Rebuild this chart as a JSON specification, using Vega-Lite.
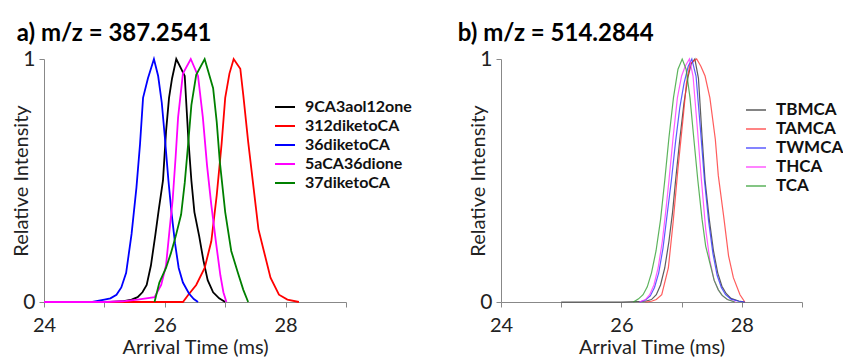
{
  "$schema": "https://vega.github.io/schema/vega-lite/v6.json",
  "padding": {"left": 11, "top": 22, "right": 0, "bottom": 0},
  "autosize": {"type": "pad"},
  "config": {
    "view": {"stroke": null},
    "font": "Lato",
    "axis": {"grid": false, "domainColor": "#888888", "tickColor": "#888888", "labelColor": "#222222", "titleColor": "#222222", "labelFontSize": 20, "titleFontSize": 20, "titleFontWeight": "normal", "tickSize": 5, "labelFont": "Lato", "titleFont": "Lato"},
    "legend": {"symbolType": "stroke", "symbolSize": 400, "symbolStrokeWidth": 2, "labelFontSize": 16, "labelFontWeight": "bold", "labelColor": "#111111", "rowPadding": 0, "labelOffset": 9, "labelLimit": 200, "labelFont": "Lato"}
  },
  "datasets": {
    "a": [
      {"s":"9CA3aol12one","t":25.1,"y":0},{"s":"9CA3aol12one","t":25.3,"y":0.003},{"s":"9CA3aol12one","t":25.45,"y":0.01},{"s":"9CA3aol12one","t":25.55,"y":0.02},{"s":"9CA3aol12one","t":25.63,"y":0.04},{"s":"9CA3aol12one","t":25.7,"y":0.07},{"s":"9CA3aol12one","t":25.77,"y":0.15},{"s":"9CA3aol12one","t":25.84,"y":0.27},{"s":"9CA3aol12one","t":25.9,"y":0.38},{"s":"9CA3aol12one","t":25.97,"y":0.5},{"s":"9CA3aol12one","t":26.02,"y":0.7},{"s":"9CA3aol12one","t":26.07,"y":0.84},{"s":"9CA3aol12one","t":26.12,"y":0.92},{"s":"9CA3aol12one","t":26.19,"y":1.0},{"s":"9CA3aol12one","t":26.27,"y":0.96},{"s":"9CA3aol12one","t":26.33,"y":0.93},{"s":"9CA3aol12one","t":26.39,"y":0.67},{"s":"9CA3aol12one","t":26.44,"y":0.5},{"s":"9CA3aol12one","t":26.49,"y":0.37},{"s":"9CA3aol12one","t":26.57,"y":0.27},{"s":"9CA3aol12one","t":26.64,"y":0.17},{"s":"9CA3aol12one","t":26.71,"y":0.09},{"s":"9CA3aol12one","t":26.8,"y":0.04},{"s":"9CA3aol12one","t":26.9,"y":0.015},{"s":"9CA3aol12one","t":27.0,"y":0},
      {"s":"312diketoCA","t":24.0,"y":0},{"s":"312diketoCA","t":25.0,"y":0},{"s":"312diketoCA","t":26.3,"y":0},{"s":"312diketoCA","t":26.39,"y":0.03},{"s":"312diketoCA","t":26.52,"y":0.07},{"s":"312diketoCA","t":26.66,"y":0.14},{"s":"312diketoCA","t":26.77,"y":0.25},{"s":"312diketoCA","t":26.86,"y":0.44},{"s":"312diketoCA","t":26.94,"y":0.65},{"s":"312diketoCA","t":27.0,"y":0.84},{"s":"312diketoCA","t":27.07,"y":0.94},{"s":"312diketoCA","t":27.14,"y":1.0},{"s":"312diketoCA","t":27.25,"y":0.96},{"s":"312diketoCA","t":27.3,"y":0.85},{"s":"312diketoCA","t":27.38,"y":0.66},{"s":"312diketoCA","t":27.47,"y":0.47},{"s":"312diketoCA","t":27.55,"y":0.3},{"s":"312diketoCA","t":27.64,"y":0.21},{"s":"312diketoCA","t":27.75,"y":0.1},{"s":"312diketoCA","t":27.89,"y":0.03},{"s":"312diketoCA","t":28.03,"y":0.01},{"s":"312diketoCA","t":28.22,"y":0},
      {"s":"36diketoCA","t":24.0,"y":0},{"s":"36diketoCA","t":24.8,"y":0},{"s":"36diketoCA","t":25.0,"y":0.01},{"s":"36diketoCA","t":25.1,"y":0.015},{"s":"36diketoCA","t":25.2,"y":0.03},{"s":"36diketoCA","t":25.28,"y":0.06},{"s":"36diketoCA","t":25.36,"y":0.12},{"s":"36diketoCA","t":25.45,"y":0.28},{"s":"36diketoCA","t":25.53,"y":0.47},{"s":"36diketoCA","t":25.59,"y":0.65},{"s":"36diketoCA","t":25.64,"y":0.84},{"s":"36diketoCA","t":25.72,"y":0.92},{"s":"36diketoCA","t":25.82,"y":1.0},{"s":"36diketoCA","t":25.89,"y":0.93},{"s":"36diketoCA","t":25.95,"y":0.82},{"s":"36diketoCA","t":26.0,"y":0.68},{"s":"36diketoCA","t":26.06,"y":0.5},{"s":"36diketoCA","t":26.11,"y":0.37},{"s":"36diketoCA","t":26.17,"y":0.24},{"s":"36diketoCA","t":26.23,"y":0.14},{"s":"36diketoCA","t":26.3,"y":0.08},{"s":"36diketoCA","t":26.4,"y":0.035},{"s":"36diketoCA","t":26.48,"y":0.012},{"s":"36diketoCA","t":26.55,"y":0},
      {"s":"5aCA36dione","t":24.0,"y":0},{"s":"5aCA36dione","t":25.0,"y":0},{"s":"5aCA36dione","t":25.3,"y":0.003},{"s":"5aCA36dione","t":25.55,"y":0.01},{"s":"5aCA36dione","t":25.83,"y":0.02},{"s":"5aCA36dione","t":25.94,"y":0.07},{"s":"5aCA36dione","t":26.02,"y":0.15},{"s":"5aCA36dione","t":26.08,"y":0.3},{"s":"5aCA36dione","t":26.13,"y":0.42},{"s":"5aCA36dione","t":26.18,"y":0.6},{"s":"5aCA36dione","t":26.22,"y":0.76},{"s":"5aCA36dione","t":26.3,"y":0.94},{"s":"5aCA36dione","t":26.43,"y":1.0},{"s":"5aCA36dione","t":26.55,"y":0.93},{"s":"5aCA36dione","t":26.63,"y":0.76},{"s":"5aCA36dione","t":26.7,"y":0.56},{"s":"5aCA36dione","t":26.77,"y":0.4},{"s":"5aCA36dione","t":26.85,"y":0.24},{"s":"5aCA36dione","t":26.92,"y":0.11},{"s":"5aCA36dione","t":26.97,"y":0.04},{"s":"5aCA36dione","t":27.02,"y":0},
      {"s":"37diketoCA","t":25.83,"y":0},{"s":"37diketoCA","t":25.91,"y":0.08},{"s":"37diketoCA","t":26.02,"y":0.14},{"s":"37diketoCA","t":26.1,"y":0.2},{"s":"37diketoCA","t":26.18,"y":0.27},{"s":"37diketoCA","t":26.27,"y":0.36},{"s":"37diketoCA","t":26.33,"y":0.49},{"s":"37diketoCA","t":26.39,"y":0.66},{"s":"37diketoCA","t":26.44,"y":0.81},{"s":"37diketoCA","t":26.52,"y":0.935},{"s":"37diketoCA","t":26.66,"y":1.0},{"s":"37diketoCA","t":26.8,"y":0.88},{"s":"37diketoCA","t":26.86,"y":0.74},{"s":"37diketoCA","t":26.91,"y":0.58},{"s":"37diketoCA","t":27.0,"y":0.37},{"s":"37diketoCA","t":27.1,"y":0.21},{"s":"37diketoCA","t":27.21,"y":0.12},{"s":"37diketoCA","t":27.3,"y":0.05},{"s":"37diketoCA","t":27.38,"y":0}
    ],
    "b": [
      {"s":"TBMCA","t":25.0,"y":0},{"s":"TBMCA","t":26.0,"y":0},{"s":"TBMCA","t":26.4,"y":0.003},{"s":"TBMCA","t":26.5,"y":0.01},{"s":"TBMCA","t":26.58,"y":0.03},{"s":"TBMCA","t":26.65,"y":0.07},{"s":"TBMCA","t":26.72,"y":0.14},{"s":"TBMCA","t":26.79,"y":0.25},{"s":"TBMCA","t":26.85,"y":0.37},{"s":"TBMCA","t":26.9,"y":0.5},{"s":"TBMCA","t":26.97,"y":0.67},{"s":"TBMCA","t":27.04,"y":0.82},{"s":"TBMCA","t":27.11,"y":0.93},{"s":"TBMCA","t":27.16,"y":0.98},{"s":"TBMCA","t":27.22,"y":1.0},{"s":"TBMCA","t":27.28,"y":0.92},{"s":"TBMCA","t":27.34,"y":0.68},{"s":"TBMCA","t":27.39,"y":0.5},{"s":"TBMCA","t":27.46,"y":0.34},{"s":"TBMCA","t":27.53,"y":0.21},{"s":"TBMCA","t":27.6,"y":0.12},{"s":"TBMCA","t":27.67,"y":0.065},{"s":"TBMCA","t":27.74,"y":0.035},{"s":"TBMCA","t":27.82,"y":0.015},{"s":"TBMCA","t":27.95,"y":0.004},{"s":"TBMCA","t":28.05,"y":0},
      {"s":"TAMCA","t":26.4,"y":0},{"s":"TAMCA","t":26.5,"y":0.003},{"s":"TAMCA","t":26.58,"y":0.01},{"s":"TAMCA","t":26.67,"y":0.03},{"s":"TAMCA","t":26.78,"y":0.14},{"s":"TAMCA","t":26.86,"y":0.33},{"s":"TAMCA","t":26.94,"y":0.55},{"s":"TAMCA","t":27.03,"y":0.77},{"s":"TAMCA","t":27.08,"y":0.9},{"s":"TAMCA","t":27.14,"y":0.98},{"s":"TAMCA","t":27.25,"y":1.0},{"s":"TAMCA","t":27.32,"y":0.97},{"s":"TAMCA","t":27.39,"y":0.93},{"s":"TAMCA","t":27.47,"y":0.84},{"s":"TAMCA","t":27.56,"y":0.67},{"s":"TAMCA","t":27.61,"y":0.52},{"s":"TAMCA","t":27.7,"y":0.35},{"s":"TAMCA","t":27.78,"y":0.19},{"s":"TAMCA","t":27.86,"y":0.1},{"s":"TAMCA","t":27.97,"y":0.03},{"s":"TAMCA","t":28.05,"y":0},
      {"s":"TWMCA","t":26.3,"y":0},{"s":"TWMCA","t":26.4,"y":0.008},{"s":"TWMCA","t":26.48,"y":0.025},{"s":"TWMCA","t":26.55,"y":0.06},{"s":"TWMCA","t":26.62,"y":0.12},{"s":"TWMCA","t":26.69,"y":0.22},{"s":"TWMCA","t":26.76,"y":0.36},{"s":"TWMCA","t":26.83,"y":0.5},{"s":"TWMCA","t":26.9,"y":0.66},{"s":"TWMCA","t":26.97,"y":0.8},{"s":"TWMCA","t":27.04,"y":0.9},{"s":"TWMCA","t":27.11,"y":0.97},{"s":"TWMCA","t":27.17,"y":1.0},{"s":"TWMCA","t":27.24,"y":0.93},{"s":"TWMCA","t":27.31,"y":0.72},{"s":"TWMCA","t":27.38,"y":0.5},{"s":"TWMCA","t":27.45,"y":0.33},{"s":"TWMCA","t":27.52,"y":0.2},{"s":"TWMCA","t":27.59,"y":0.11},{"s":"TWMCA","t":27.66,"y":0.06},{"s":"TWMCA","t":27.73,"y":0.03},{"s":"TWMCA","t":27.82,"y":0.012},{"s":"TWMCA","t":27.95,"y":0.003},{"s":"TWMCA","t":28.05,"y":0},
      {"s":"THCA","t":26.3,"y":0},{"s":"THCA","t":26.4,"y":0.01},{"s":"THCA","t":26.47,"y":0.03},{"s":"THCA","t":26.54,"y":0.07},{"s":"THCA","t":26.61,"y":0.14},{"s":"THCA","t":26.68,"y":0.25},{"s":"THCA","t":26.74,"y":0.38},{"s":"THCA","t":26.79,"y":0.5},{"s":"THCA","t":26.86,"y":0.68},{"s":"THCA","t":26.93,"y":0.84},{"s":"THCA","t":27.0,"y":0.93},{"s":"THCA","t":27.06,"y":0.97},{"s":"THCA","t":27.13,"y":1.0},{"s":"THCA","t":27.19,"y":0.93},{"s":"THCA","t":27.26,"y":0.72},{"s":"THCA","t":27.33,"y":0.5},{"s":"THCA","t":27.4,"y":0.3},{"s":"THCA","t":27.47,"y":0.17},{"s":"THCA","t":27.54,"y":0.09},{"s":"THCA","t":27.61,"y":0.05},{"s":"THCA","t":27.68,"y":0.025},{"s":"THCA","t":27.76,"y":0.01},{"s":"THCA","t":27.9,"y":0},
      {"s":"TCA","t":26.2,"y":0},{"s":"TCA","t":26.285,"y":0.013},{"s":"TCA","t":26.36,"y":0.03},{"s":"TCA","t":26.43,"y":0.0625},{"s":"TCA","t":26.5,"y":0.12},{"s":"TCA","t":26.575,"y":0.21},{"s":"TCA","t":26.65,"y":0.338},{"s":"TCA","t":26.72,"y":0.5},{"s":"TCA","t":26.79,"y":0.677},{"s":"TCA","t":26.865,"y":0.841},{"s":"TCA","t":26.94,"y":0.958},{"s":"TCA","t":27.01,"y":1.0},{"s":"TCA","t":27.075,"y":0.958},{"s":"TCA","t":27.14,"y":0.84},{"s":"TCA","t":27.2,"y":0.68},{"s":"TCA","t":27.27,"y":0.5},{"s":"TCA","t":27.34,"y":0.34},{"s":"TCA","t":27.4,"y":0.23},{"s":"TCA","t":27.47,"y":0.16},{"s":"TCA","t":27.54,"y":0.09},{"s":"TCA","t":27.61,"y":0.05},{"s":"TCA","t":27.67,"y":0.028},{"s":"TCA","t":27.76,"y":0.01},{"s":"TCA","t":27.88,"y":0}
    ]
  },
  "bounds": "flush",
  "spacing": 155,
  "resolve": {"scale": {"color": "independent"}, "legend": {"color": "independent"}},
  "hconcat": [
    {
      "width": 302,
      "height": 243,
      "title": {"text": "a) m/z = 387.2541", "anchor": "start", "fontSize": 24, "fontWeight": "bold", "font": "Lato", "color": "#000000", "offset": 2, "dx": 5},
      "data": {"name": "a"},
      "mark": {"type": "line", "strokeWidth": 1.8},
      "encoding": {
        "x": {"field": "t", "type": "quantitative", "scale": {"domain": [24, 29], "nice": false, "zero": false},
              "axis": {"title": "Arrival Time (ms)", "values": [24, 25, 26, 27, 28, 29], "labelExpr": "datum.value % 2 == 0 && datum.value < 29 ? datum.label : ''", "labelFlush": false, "labelPadding": 8, "titlePadding": 2}},
        "y": {"field": "y", "type": "quantitative", "scale": {"domain": [0, 1]},
              "axis": {"title": "Relative Intensity", "values": [0, 1], "format": "d", "labelFontSize": 21, "labelPadding": 4, "titlePadding": -9}},
        "color": {"field": "s", "type": "nominal",
                  "scale": {"domain": ["9CA3aol12one", "312diketoCA", "36diketoCA", "5aCA36dione", "37diketoCA"], "range": ["#000000", "#ff0000", "#0000ff", "#ff00ff", "#008000"]},
                  "legend": {"title": null, "orient": "none", "legendX": 230, "legendY": 37}}
      }
    },
    {
      "width": 301,
      "height": 243,
      "title": {"text": "b) m/z = 514.2844", "anchor": "start", "fontSize": 24, "fontWeight": "bold", "font": "Lato", "color": "#000000", "offset": 2, "dx": -11},
      "data": {"name": "b"},
      "mark": {"type": "line", "strokeWidth": 1.2, "opacity": 0.8},
      "encoding": {
        "x": {"field": "t", "type": "quantitative", "scale": {"domain": [24, 29], "nice": false, "zero": false},
              "axis": {"title": "Arrival Time (ms)", "values": [24, 25, 26, 27, 28, 29], "labelExpr": "datum.value % 2 == 0 && datum.value < 29 ? datum.label : ''", "labelFlush": false, "labelPadding": 8, "titlePadding": 2}},
        "y": {"field": "y", "type": "quantitative", "scale": {"domain": [0, 1]},
              "axis": {"title": "Relative Intensity", "values": [0, 1], "format": "d", "labelFontSize": 21, "labelPadding": 4, "titlePadding": -9}},
        "color": {"field": "s", "type": "nominal",
                  "scale": {"domain": ["TBMCA", "TAMCA", "TWMCA", "THCA", "TCA"], "range": ["#333333", "#ff3333", "#3333ff", "#ff33ff", "#33a033"]},
                  "legend": {"title": null, "orient": "none", "legendX": 244, "legendY": 40, "symbolOpacity": 0.6, "labelFontSize": 17}}
      }
    }
  ]
}
